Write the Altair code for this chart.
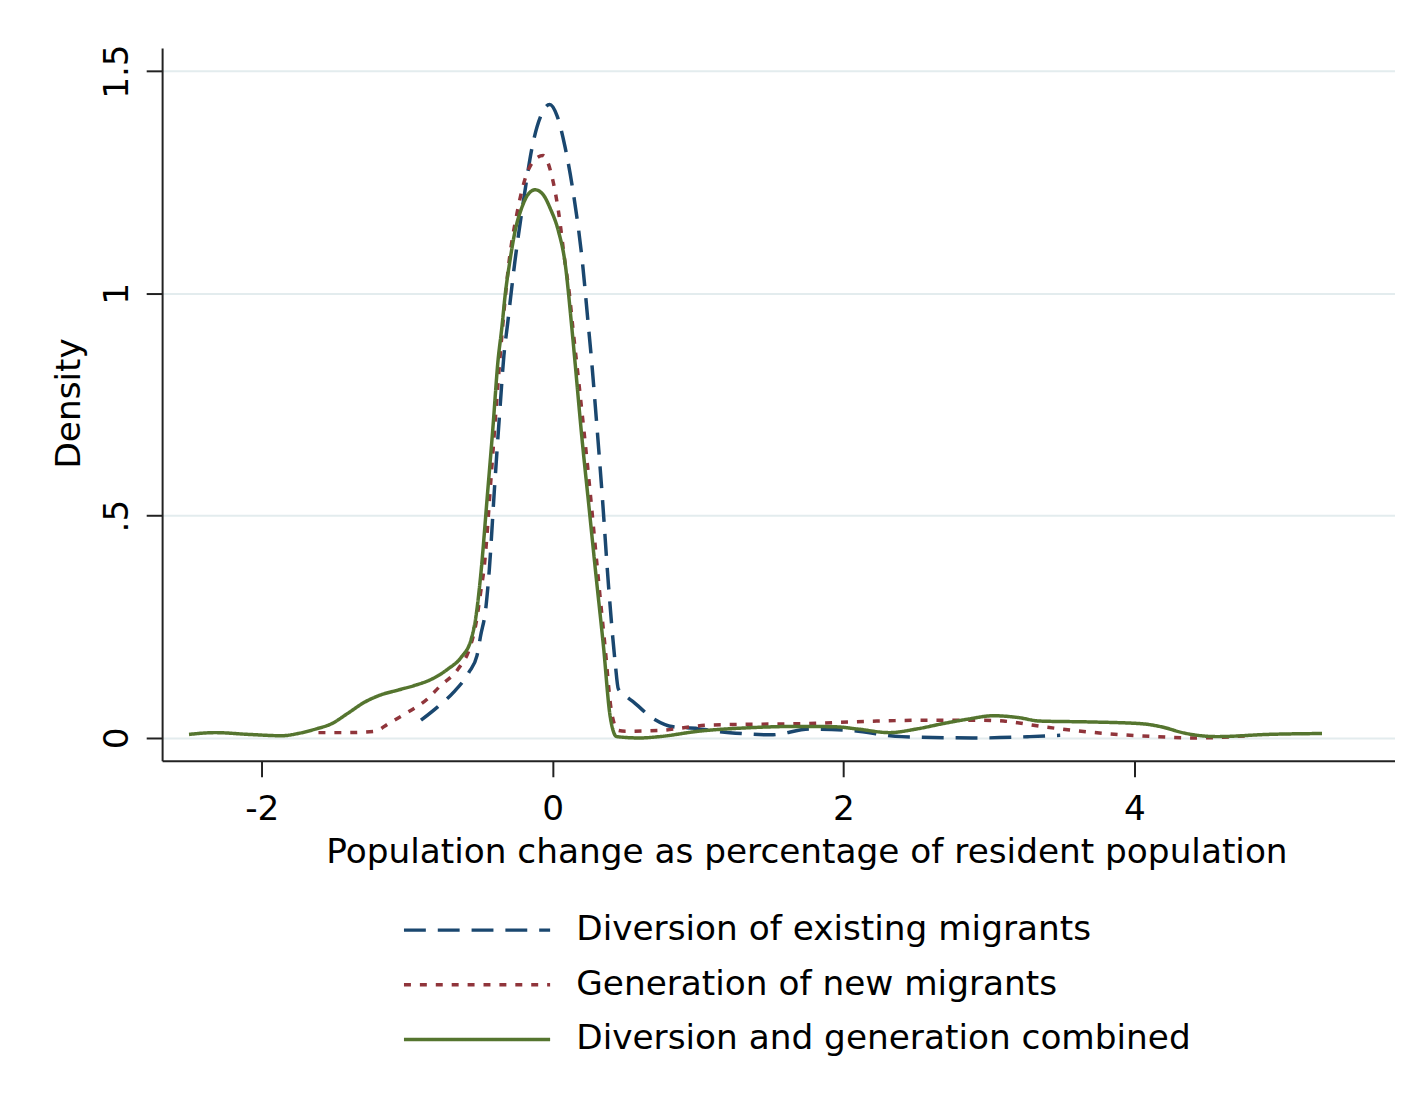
import altair as alt
import pandas as pd

series_names = [
    "Diversion of existing migrants",
    "Generation of new migrants",
    "Diversion and generation combined",
]
series_colors = ["#1a476f", "#90353b", "#55752f"]
series_dashes = [[22, 12], [7, 9], [1, 0]]

# Diversion of existing migrants (blue, long dash)
x_div = [-0.905, -0.79, -0.68, -0.575, -0.52, -0.495, -0.46, -0.435, -0.40, -0.36, -0.335,
         -0.31, -0.26, -0.195, -0.14, -0.08, -0.02, 0.03, 0.085, 0.145, 0.205, 0.245, 0.265,
         0.30, 0.34, 0.385, 0.43, 0.452, 0.50, 0.555, 0.69, 0.83, 1.0, 1.08, 1.30, 1.50, 1.77,
         2.05, 2.40, 2.93, 3.28, 3.49]
y_div = [0.040, 0.070, 0.103, 0.148, 0.185, 0.230, 0.290, 0.380, 0.56, 0.75, 0.86,
         0.93, 1.07, 1.22, 1.33, 1.40, 1.425, 1.40, 1.33, 1.22, 1.07, 0.93, 0.86,
         0.72, 0.55, 0.34, 0.17, 0.11, 0.095, 0.081, 0.044, 0.025, 0.021, 0.017, 0.010, 0.007, 0.020,
         0.017, 0.003, 0.0, 0.003, 0.006]

# Generation of new migrants (red, short dash)
x_gen = [-1.61, -1.41, -1.22, -1.13, -1.00, -0.86, -0.77, -0.65, -0.565, -0.53, -0.495, -0.47,
         -0.42, -0.375, -0.345, -0.30, -0.245, -0.185, -0.125, -0.065, -0.01, 0.04, 0.085, 0.115,
         0.14, 0.18, 0.25, 0.315, 0.36, 0.405, 0.45, 0.50, 0.735, 1.08, 1.42, 1.70, 2.23, 2.58,
         2.93, 3.10, 3.38, 3.80, 4.15, 4.43, 4.82]
y_gen = [0.012, 0.012, 0.015, 0.032, 0.057, 0.088, 0.118, 0.155, 0.207, 0.252, 0.327, 0.386,
         0.60, 0.80, 0.92, 1.07, 1.18, 1.262, 1.300, 1.31, 1.27, 1.185, 1.07, 1.0,
         0.92, 0.80, 0.58, 0.356, 0.207, 0.059, 0.017, 0.015, 0.017, 0.029, 0.031, 0.032, 0.038, 0.040,
         0.040, 0.038, 0.025, 0.010, 0.003, 0.0, 0.006]

# Diversion and generation combined (green, solid)
x_comb = [-2.50, -2.32, -2.09, -1.86, -1.75, -1.63, -1.52, -1.41, -1.29, -1.18, -1.06, -0.95,
          -0.84, -0.72, -0.63, -0.56, -0.53, -0.495, -0.45, -0.41, -0.375, -0.35, -0.325, -0.295,
          -0.255, -0.215, -0.17, -0.12, -0.065, -0.015, 0.04, 0.085, 0.13, 0.15, 0.20, 0.25, 0.30,
          0.35, 0.395, 0.44, 0.60, 0.735, 1.00, 1.35, 1.70, 1.95, 2.10, 2.315, 2.50, 2.68, 2.85,
          3.03, 3.20, 3.35, 3.70, 4.05, 4.20, 4.33, 4.57, 4.92, 5.29]
y_comb = [0.008, 0.012, 0.008, 0.005, 0.010, 0.020, 0.032, 0.055, 0.081, 0.097, 0.108, 0.118,
          0.131, 0.155, 0.181, 0.222, 0.267, 0.364, 0.54, 0.70, 0.85, 0.92, 1.00, 1.07,
          1.145, 1.19, 1.222, 1.233, 1.222, 1.19, 1.14, 1.07, 0.93, 0.86, 0.68, 0.52, 0.36,
          0.205, 0.05, 0.003, 0.0, 0.003, 0.015, 0.023, 0.026, 0.025, 0.020, 0.012, 0.020, 0.032, 0.042,
          0.050, 0.046, 0.038, 0.036, 0.032, 0.024, 0.012, 0.003, 0.008, 0.010]

x_ticks = [-2, 0, 2, 4]
y_ticks = [0, 0.5, 1, 1.5]

rows = []
for name, xs, ys in zip(series_names, [x_div, x_gen, x_comb], [y_div, y_gen, y_comb]):
    for i, (a, b) in enumerate(zip(xs, ys)):
        rows.append({"series": name, "x": a, "y": b, "i": i})
df = pd.DataFrame(rows)

FONT = "DejaVu Sans"
FS = 34.5

legend = alt.Legend(
    title=None,
    orient="none",
    legendX=299.5,
    legendY=870,
    direction="vertical",
    symbolType="M-7,0H7",
    symbolSize=441,
    symbolStrokeWidth=3.5,
    symbolOffset=0,
    labelFont=FONT,
    labelFontSize=FS,
    labelColor="#000000",
    labelOffset=82.5,
    labelLimit=1000,
    rowPadding=20,
    padding=0,
)

x_enc = alt.X(
    "x:Q",
    scale=alt.Scale(domain=[-2.685, 5.792], nice=False, zero=False),
    axis=alt.Axis(
        values=x_ticks,
        title="Population change as percentage of resident population",
        labelExpr="'' + datum.value",
        labelBaseline="alphabetic",
        labelPadding=43,
        grid=False,
        titleX=648,
        titleY=102,
        titleAlign="center",
        titleBaseline="alphabetic",
    ),
)
y_enc = alt.Y(
    "y:Q",
    scale=alt.Scale(domain=[-0.0515, 1.552], nice=False, zero=False),
    axis=alt.Axis(
        values=y_ticks,
        title="Density",
        labelExpr="datum.value == 0 ? '0' : datum.value == 0.5 ? '.5' : datum.value == 1 ? '1' : '1.5'",
        labelAngle=270,
        labelAlign="center",
        labelBaseline="alphabetic",
        labelPadding=19,
        grid=True,
        gridColor="#e3ecee",
        gridWidth=2,
        titleAngle=270,
        titleX=-83,
        titleY=357,
        titleAlign="center",
        titleBaseline="alphabetic",
    ),
)
color_enc = alt.Color("series:N", scale=alt.Scale(domain=series_names, range=series_colors), legend=legend)
dash_enc = alt.StrokeDash("series:N", scale=alt.Scale(domain=series_names, range=series_dashes), legend=legend)

base = alt.Chart(df).mark_line(strokeWidth=3.5, interpolate="monotone").encode(
    x=x_enc, y=y_enc, color=color_enc, strokeDash=dash_enc, order="i:Q"
)

layers = [base.transform_filter(alt.datum.series == name) for name in series_names]

chart = alt.layer(*layers).properties(
    width=1240,
    height=717,
    autosize=alt.AutoSizeParams(type="none"),
    padding={"left": 155, "top": 37, "right": 0, "bottom": 355},
    background="#ffffff",
).configure_view(stroke=None).configure_axis(
    domainColor="#222222",
    domainWidth=2,
    tickColor="#222222",
    tickWidth=2,
    tickSize=16,
    labelFont=FONT,
    labelFontSize=FS,
    labelColor="#000000",
    titleFont=FONT,
    titleFontSize=FS,
    titleFontWeight="normal",
    titleColor="#000000",
)

chart.save("out.html", embed_options={"renderer": "svg", "actions": False})
